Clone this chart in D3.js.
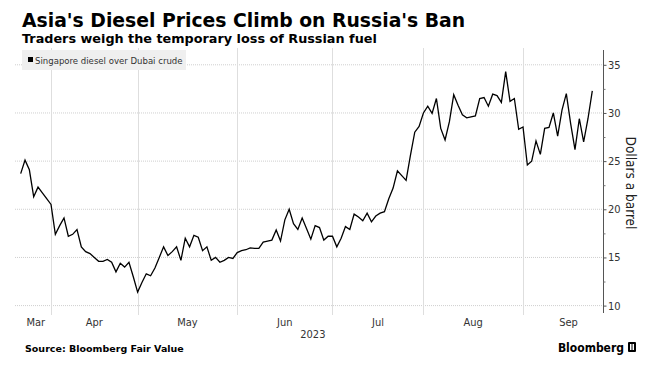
<!DOCTYPE html>
<html>
<head>
<meta charset="utf-8">
<script src="https://cdn.jsdelivr.net/npm/d3@7/dist/d3.min.js"></script>
<style>
  html, body { margin: 0; padding: 0; background: #fff; }
  svg { display: block; }
</style>
</head>
<body>
<svg id="chart" width="657" height="369"></svg>
<script>
// ---- Data ----
const titleText = "Asia's Diesel Prices Climb on Russia's Ban";
const subtitleText = "Traders weigh the temporary loss of Russian fuel";
const seriesName = "Singapore diesel over Dubai crude";
const yAxisLabel = "Dollars a barrel";
const sourceText = "Source: Bloomberg Fair Value";
const yearLabel = "2023";
const yTicks = [10, 15, 20, 25, 30, 35];
const yMinorTicks = [12.5, 17.5, 22.5, 27.5, 32.5];
const startDate = new Date(2023, 2, 23);
const endDate = new Date(2023, 8, 25);

// Singapore diesel crack vs Dubai, one value per trading day (Mar 23 – Sep 25, 2023)
const values = [
  23.7, 25.1, 24.1, 21.3, 22.3, 21.7, 21.1, 20.5, 17.4, 18.3,
  19.1, 17.2, 17.4, 17.9, 16.1, 15.6, 15.4, 15.0, 14.6, 14.6,
  14.8, 14.5, 13.5, 14.4, 14.0, 14.5, 13.0, 11.4, 12.4, 13.3,
  13.1, 13.9, 15.0, 16.1, 15.2, 15.6, 16.1, 14.7, 17.0, 16.1,
  17.3, 17.1, 15.7, 16.1, 14.7, 15.0, 14.5, 14.7, 15.0, 14.9,
  15.5, 15.7, 15.8, 16.0, 15.95, 15.95, 16.6, 16.7, 16.8, 17.85,
  16.7, 18.9, 20.0, 18.5, 17.9, 19.1, 18.0, 16.9, 18.3, 18.1,
  16.8, 17.2, 17.2, 16.1, 17.0, 18.2, 17.9, 19.5, 19.2, 18.8,
  19.6, 18.7, 19.3, 19.6, 19.75, 21.1, 22.2, 24.0, 23.5, 23.0,
  25.6, 28.0, 28.6, 30.0, 30.7, 29.95, 31.5, 28.4, 27.2, 29.1,
  31.9, 30.8, 29.8, 29.5, 29.6, 29.7, 31.5, 31.6, 30.7, 31.95,
  31.8, 31.1, 34.3, 31.2, 31.5, 28.3, 28.55, 24.6, 25.0, 27.1,
  25.7, 28.4, 28.5, 30.0, 27.6, 30.3, 32.0, 28.9, 26.2, 29.4,
  27.0, 29.4, 32.3
];

// trading days (weekdays) the values belong to
const dates = d3.timeDay.range(startDate, d3.timeDay.offset(endDate, 1))
  .filter(d => d.getDay() !== 0 && d.getDay() !== 6);
const data = dates.map((d, i) => ({ date: d, i: i, v: values[i] }));

// ---- Layout ----
const svg = d3.select("#chart");
const plot = { left: 15, right: 603, top: 48, bottom: 315 };

const x = d3.scaleLinear().domain([0, values.length - 1]).range([20.7, 592.3]);
const y = d3.scaleLinear().domain([10, 35]).range([305.6, 64.8]);

// month boundaries (first trading day of each month)
const monthStarts = [];
dates.forEach((d, i) => {
  if (i > 0 && d.getMonth() !== dates[i - 1].getMonth()) monthStarts.push(i);
});
// weekdays left in the last month after the final date (to find month middle)
const lastMonthEnd = d3.timeMonth.ceil(d3.timeDay.offset(endDate, 1));
const extra = d3.timeDay.range(d3.timeDay.offset(endDate, 1), lastMonthEnd)
  .filter(d => d.getDay() !== 0 && d.getDay() !== 6).length;
const bounds = [0].concat(monthStarts).concat([values.length - 1 + extra + 1]);
const monthFmt = d3.timeFormat("%b");

// ---- Gridlines ----
const grid = svg.append("g");
grid.selectAll("line.h").data(yTicks).join("line")
  .attr("x1", plot.left).attr("x2", plot.right)
  .attr("y1", d => y(d)).attr("y2", d => y(d))
  .attr("stroke", "#cfcfcf").attr("stroke-width", 1)
  .attr("stroke-dasharray", "1,1");
grid.selectAll("line.v").data(monthStarts).join("line")
  .attr("x1", d => Math.round(x(d)) + 0.5).attr("x2", d => Math.round(x(d)) + 0.5)
  .attr("y1", plot.top).attr("y2", plot.bottom)
  .attr("stroke", "#dedede").attr("stroke-width", 1);

// ---- Line ----
const line = d3.line().x(d => x(d.i)).y(d => y(d.v));
svg.append("path").datum(data)
  .attr("d", line)
  .attr("fill", "none")
  .attr("stroke", "#000")
  .attr("stroke-width", 1.3)
  .attr("stroke-linejoin", "miter");

// ---- Y axis (right) ----
const yAxisG = svg.append("g").attr("transform", `translate(${plot.right},0)`);
yAxisG.append("line")
  .attr("x1", 0.5).attr("x2", 0.5)
  .attr("y1", plot.top + 2).attr("y2", plot.bottom - 2)
  .attr("stroke", "#555").attr("stroke-width", 1);
const yAxis = d3.axisRight(y).tickValues(yTicks).tickSize(3).tickPadding(2);
yAxisG.call(yAxis);
yAxisG.select(".domain").remove();
yAxisG.selectAll(".tick line").attr("stroke", "#555").attr("transform", "translate(0.5,0)");
yAxisG.selectAll(".tick text")
  .attr("font-family", "'DejaVu Sans Condensed', 'DejaVu Sans', sans-serif")
  .attr("font-size", 11).attr("fill", "#333");
const yMinor = d3.axisRight(y).tickValues(yMinorTicks).tickSize(2).tickFormat("");
const yMinorG = yAxisG.append("g").call(yMinor);
yMinorG.select(".domain").remove();
yMinorG.selectAll(".tick line").attr("stroke", "#777").attr("transform", "translate(0.5,0)");

svg.append("text")
  .attr("transform", `translate(626,183) rotate(90)`)
  .attr("text-anchor", "middle")
  .attr("font-family", "'DejaVu Sans Condensed', 'DejaVu Sans', sans-serif")
  .attr("font-size", 13.5).attr("fill", "#222")
  .text(yAxisLabel);

// ---- X axis month labels ----
const monthLabels = [];
for (let k = 0; k < bounds.length - 1; k++) {
  const a = bounds[k], b = bounds[k + 1];
  monthLabels.push({ name: monthFmt(dates[a]), pos: (x(a) + x(b)) / 2 });
}
svg.append("g").selectAll("text").data(monthLabels).join("text")
  .attr("x", d => d.pos).attr("y", 326)
  .attr("text-anchor", "middle")
  .attr("font-family", "'DejaVu Sans Condensed', 'DejaVu Sans', sans-serif")
  .attr("font-size", 11).attr("fill", "#333")
  .text(d => d.name);
svg.append("text")
  .attr("x", (x(0) + plot.right) / 2 + 1).attr("y", 338)
  .attr("text-anchor", "middle")
  .attr("font-family", "'DejaVu Sans Condensed', 'DejaVu Sans', sans-serif")
  .attr("font-size", 11).attr("fill", "#333")
  .text(yearLabel);

// ---- Title / subtitle ----
svg.append("text").attr("x", 22).attr("y", 27)
  .attr("font-family", "'DejaVu Sans', sans-serif").attr("font-weight", "bold")
  .attr("font-size", 18.8).attr("fill", "#000")
  .text(titleText);
svg.append("text").attr("x", 22).attr("y", 43)
  .attr("font-family", "'DejaVu Sans', sans-serif").attr("font-weight", "bold")
  .attr("font-size", 12.8).attr("fill", "#000")
  .text(subtitleText);

// ---- Legend ----
const leg = svg.append("g");
leg.append("rect").attr("x", 22).attr("y", 50).attr("width", 164).attr("height", 20)
  .attr("fill", "#efefef");
leg.append("rect").attr("x", 28).attr("y", 57).attr("width", 5).attr("height", 5)
  .attr("fill", "#000");
leg.append("text").attr("x", 35).attr("y", 63.5)
  .attr("font-family", "'DejaVu Sans Condensed', 'DejaVu Sans', sans-serif")
  .attr("font-size", 9.5).attr("fill", "#333")
  .text(seriesName);

// ---- Footer ----
svg.append("text").attr("x", 25).attr("y", 352)
  .attr("font-family", "'DejaVu Sans', sans-serif").attr("font-weight", "bold")
  .attr("font-size", 9.5).attr("fill", "#000")
  .text(sourceText);
svg.append("text").attr("x", 624).attr("y", 352)
  .attr("text-anchor", "end")
  .attr("font-family", "'DejaVu Sans Condensed', 'DejaVu Sans', sans-serif")
  .attr("font-weight", "bold")
  .attr("font-size", 12).attr("fill", "#000")
  .text("Bloomberg");
const logo = svg.append("g").attr("transform", "translate(628,342)");
logo.append("rect").attr("width", 8).attr("height", 10).attr("rx", 1).attr("fill", "#000");
logo.append("rect").attr("x", 2).attr("y", 2).attr("width", 1.5).attr("height", 6).attr("fill", "#fff");
logo.append("rect").attr("x", 4.5).attr("y", 2).attr("width", 1.5).attr("height", 6).attr("fill", "#fff");
</script>
</body>
</html>
